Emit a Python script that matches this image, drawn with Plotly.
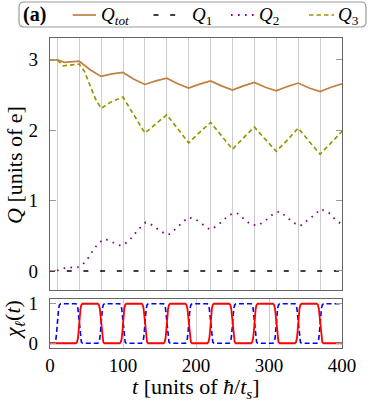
import plotly.graph_objects as go

# ---------------- data ----------------
t_tot = [0, 10, 20, 30, 40, 55, 70, 85, 100, 115, 130, 145, 160, 175, 190, 205, 220,
         235, 250, 265, 280, 295, 310, 325, 340, 355, 370, 385, 400]
q_tot = [3.0, 3.0, 2.965, 2.97, 2.98, 2.86, 2.765, 2.80, 2.82, 2.725, 2.65, 2.70, 2.74,
         2.66, 2.60, 2.655, 2.70, 2.63, 2.57, 2.63, 2.68, 2.61, 2.56, 2.62, 2.67, 2.60,
         2.55, 2.61, 2.66]

t_q1 = [0, 400]
q1 = [0.0, 0.0]

t_q2 = [0, 12, 24, 36, 45, 53, 59, 66, 75, 86, 97, 107, 114, 122, 131, 142, 151, 162,
        171, 180, 189, 199, 209, 219, 228, 237, 246, 256, 266, 275, 285, 295, 304, 314,
        324, 333, 343, 353, 362, 371, 382, 390, 400]
q2 = [0.0, 0.01, 0.056, 0.042, 0.094, 0.193, 0.296, 0.39, 0.457, 0.41, 0.358, 0.415,
      0.503, 0.60, 0.69, 0.645, 0.564, 0.513, 0.588, 0.677, 0.762, 0.739, 0.659, 0.588,
      0.635, 0.715, 0.80, 0.824, 0.743, 0.659, 0.645, 0.715, 0.795, 0.846, 0.772, 0.687,
      0.64, 0.715, 0.795, 0.88, 0.828, 0.739, 0.659]

t_q3 = [0, 10, 18, 30, 40, 47, 55, 62, 70, 85, 100, 115, 130, 145, 160, 175, 190, 205,
        220, 235, 250, 265, 280, 295, 310, 325, 340, 355, 370, 385, 400]
q3 = [3.0, 3.0, 2.915, 2.93, 2.94, 2.84, 2.63, 2.45, 2.31, 2.41, 2.47, 2.22, 1.96, 2.09,
      2.22, 2.02, 1.82, 1.97, 2.11, 1.92, 1.73, 1.89, 2.045, 1.87, 1.70, 1.86, 2.03,
      1.84, 1.66, 1.82, 1.985]

grid_times = [10, 40, 70, 100, 130, 160, 190, 220, 250, 280, 310, 340, 370]
red_edges = [40, 70, 100, 130, 160, 190, 220, 250, 280, 310, 340, 370]
blue_edges = [10, 40, 70, 100, 130, 160, 190, 220, 250, 280, 310, 340, 370]
edge_offsets = [-4.5, -3.0, -1.8, -0.8, 0.0, 0.8, 1.8, 3.0, 4.5]
edge_levels = [0.0, 0.03, 0.12, 0.3, 0.5, 0.7, 0.88, 0.97, 1.0]

x_ticks = [0, 100, 200, 300, 400]
y_ticks_top = [0, 1, 2, 3]
y_ticks_bot = [0, 1]

FONT = "Liberation Serif, serif"


def chi_series(start, edges):
    ts, vs, level = [0], [start], start
    for e in edges:
        rising = level == 0
        for off, lv in zip(edge_offsets, edge_levels):
            ts.append(e + off)
            vs.append(lv if rising else 1 - lv)
        level = 1 - level
    ts.append(400)
    vs.append(level)
    return ts, vs


t_red, chi_red = chi_series(0, red_edges)
t_blue, chi_blue = chi_series(0, blue_edges)

BROWN = "#bf8040"
OLIVE = "#9a9400"
VIOLET = "#800080"

fig = go.Figure()
fig.add_trace(go.Scatter(x=t_q1, y=q1, mode="lines", name="Q1",
                         line=dict(color="black", width=1.6, dash="5px,11.7px"),
                         xaxis="x", yaxis="y", showlegend=False))
fig.add_trace(go.Scatter(x=t_q2, y=q2, mode="lines", name="Q2",
                         line=dict(color=VIOLET, width=1.8, dash="1.6px,5.4px"),
                         xaxis="x", yaxis="y", showlegend=False))
fig.add_trace(go.Scatter(x=t_q3, y=q3, mode="lines", name="Q3",
                         line=dict(color=OLIVE, width=1.7, dash="4.5px,3px"),
                         xaxis="x", yaxis="y", showlegend=False))
fig.add_trace(go.Scatter(x=t_tot, y=q_tot, mode="lines", name="Qtot",
                         line=dict(color=BROWN, width=1.7),
                         xaxis="x", yaxis="y", showlegend=False))
fig.add_trace(go.Scatter(x=t_blue, y=chi_blue, mode="lines",
                         line=dict(color="#0000ff", width=1.6, dash="5px,3px"),
                         xaxis="x2", yaxis="y2", showlegend=False))
fig.add_trace(go.Scatter(x=t_red, y=chi_red, mode="lines",
                         line=dict(color="#ff0000", width=1.8),
                         xaxis="x2", yaxis="y2", showlegend=False))

# layout geometry in pixels
W, H = 374, 401
L, R, T, B = 50, 32, 38, 53
PW, PH = W - L - R, H - T - B


def px(x):
    return (x - L) / PW


def py(y):
    return (H - B - y) / PH


frame = dict(showline=True, linecolor="#666666", linewidth=1.3, mirror=True,
             zeroline=False, automargin=False)
tickfont = dict(family=FONT, size=19, color="black")
TITLE_SIZE = 22

fig.update_layout(
    width=W, height=H,
    margin=dict(l=L, r=R, t=T, b=B, pad=0),
    paper_bgcolor="white", plot_bgcolor="white",
    font=dict(family=FONT, color="black"),
    xaxis=dict(range=[0, 400], domain=[0, 1], anchor="y", tickvals=grid_times,
               showticklabels=False, ticks="", showgrid=True, gridcolor="#cccccc",
               gridwidth=1.3, **frame),
    yaxis=dict(range=[-0.27, 3.31], domain=[py(290), 1], anchor="x", tickvals=y_ticks_top,
               ticks="inside", ticklen=6, tickcolor="#999999", tickwidth=1.2,
               showgrid=False, tickfont=tickfont, ticklabelstandoff=7,
               **{**frame, "mirror": "ticks"}),
    xaxis2=dict(range=[0, 400], domain=[0, 1], anchor="y2", tickvals=x_ticks,
                ticks="", showgrid=True, gridcolor="#cccccc", gridwidth=1.3,
                tickfont=tickfont, ticklabelstandoff=0, **frame),
    yaxis2=dict(range=[-0.12, 1.12], domain=[0, py(299)], anchor="x2", tickvals=y_ticks_bot,
                ticks="inside", ticklen=6, tickcolor="#999999", tickwidth=1.2,
                showgrid=False, tickfont=tickfont, ticklabelstandoff=7,
                **{**frame, "mirror": "ticks"}),
)

shapes = []
annotations = []

# legend box (rounded)
x0, x1, y0, y1, r = px(19), px(366), py(27), py(2), 5
rx, ry = r / PW, r / PH
path = (f"M {x0+rx},{y0} L {x1-rx},{y0} Q {x1},{y0} {x1},{y0+ry} "
        f"L {x1},{y1-ry} Q {x1},{y1} {x1-rx},{y1} L {x0+rx},{y1} Q {x0},{y1} {x0},{y1-ry} "
        f"L {x0},{y0+ry} Q {x0},{y0} {x0+rx},{y0} Z")
shapes.append(dict(type="path", path=path, xref="paper", yref="paper",
                   line=dict(color="#9a9a9a", width=1.2), fillcolor="white"))

ly = py(15)
legend_items = [
    (72.7, 96, dict(color=BROWN, width=1.7), 99, "<i>Q</i><sub><i>tot</i></sub>"),
    (153.5, 176, dict(color="black", width=1.6, dash="5px,11.7px"), 190, "<i>Q</i><sub>1</sub>"),
    (231, 254, dict(color=VIOLET, width=1.8, dash="1.6px,5.4px"), 257, "<i>Q</i><sub>2</sub>"),
    (309, 334, dict(color=OLIVE, width=1.7, dash="4.5px,3px"), 336, "<i>Q</i><sub>3</sub>"),
]
for xa, xb, ln, xt, txt in legend_items:
    shapes.append(dict(type="line", xref="paper", yref="paper", x0=px(xa), x1=px(xb),
                       y0=ly, y1=ly, line=ln))
    annotations.append(dict(x=px(xt), y=py(16), xref="paper", yref="paper", text=txt,
                            showarrow=False, xanchor="left", yanchor="middle",
                            font=dict(family=FONT, size=19)))
annotations.append(dict(x=px(21), y=py(15), xref="paper", yref="paper", text="<b>(a)</b>",
                        showarrow=False, xanchor="left", yanchor="middle",
                        font=dict(family=FONT, size=20)))

# axis titles
annotations.append(dict(x=px(14), y=py(165), xref="paper", yref="paper",
                        text="<i>Q</i> [units of e]", textangle=-90, showarrow=False,
                        xanchor="center", yanchor="middle",
                        font=dict(family=FONT, size=TITLE_SIZE)))
annotations.append(dict(x=px(14), y=py(320), xref="paper", yref="paper",
                        text="<i>χ</i><sub><i>ℓ</i></sub>(<i>t</i>)", textangle=-90,
                        showarrow=False, xanchor="center", yanchor="middle",
                        font=dict(family=FONT, size=TITLE_SIZE)))
annotations.append(dict(x=px(196), y=py(388), xref="paper", yref="paper",
                        text="<i>t</i> [units of <i>ħ</i>/<i>t</i><sub><i>s</i></sub>]",
                        showarrow=False, xanchor="center", yanchor="middle",
                        font=dict(family=FONT, size=TITLE_SIZE)))

fig.update_layout(shapes=shapes, annotations=annotations)
fig.write_html("out.html", config={"displayModeBar": False},
               post_script="document.body.style.margin='0';document.body.style.padding='0';")
